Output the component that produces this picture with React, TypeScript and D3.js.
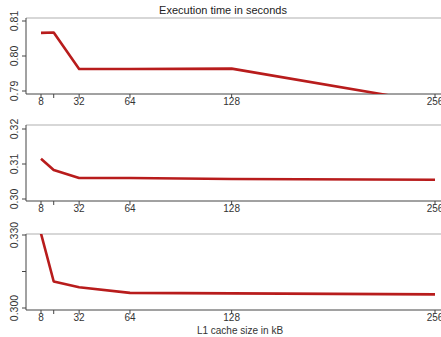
import { useEffect, useRef } from 'react';
import * as d3 from 'd3';

// L1 cache sizes (kB)
const cacheSizes = [8, 16, 32, 64, 128, 256];
const xTicks = [8, 16, 32, 64, 128, 256];
const xTickLabels = ['8', '', '32', '64', '128', '256'];

// execution time in seconds, three runs
const timesA = [0.8066, 0.8067, 0.7963, 0.7963, 0.7964, 0.7865];
const timesB = [0.3115, 0.3083, 0.306, 0.306, 0.3057, 0.3055];
const timesC = [0.3306, 0.3109, 0.3085, 0.3062, 0.306, 0.3056];

const ticksA = [0.79, 0.8, 0.81];
const ticksB = [0.3, 0.31, 0.32];
const ticksC = [0.3, 0.315, 0.33];
const tickLabelsA = ['0.79', '0.80', '0.81'];
const tickLabelsB = ['0.30', '0.31', '0.32'];
const tickLabelsC = ['0.300', '', '0.330'];

const W = 441;
const H = 337;

export default function App() {
  const svgRef = useRef<SVGSVGElement | null>(null);

  useEffect(() => {
    if (!svgRef.current) return;
    const svg = d3.select(svgRef.current);
    svg.selectAll('*').remove();

    const left = 26;
    const x = d3.scaleLinear().domain([8, 256]).range([41, 435]);

    const panels = [
      { vals: timesA, ticks: ticksA, labels: tickLabelsA, top: 18, bottom: 94, yLo: 91, yHi: 21 },
      { vals: timesB, ticks: ticksB, labels: tickLabelsB, top: 125, bottom: 201, yLo: 199, yHi: 129 },
      { vals: timesC, ticks: ticksC, labels: tickLabelsC, top: 234, bottom: 310, yLo: 308, yHi: 235 },
    ];

    const font = '"Liberation Sans", Arial, sans-serif';

    panels.forEach((p, i) => {
      const lo = p.ticks[0];
      const hi = p.ticks[p.ticks.length - 1];
      const y = d3.scaleLinear().domain([lo, hi]).range([p.yLo, p.yHi]);
      const g = svg.append('g');

      const clipId = 'clip' + i;
      svg.append('clipPath').attr('id', clipId)
        .append('rect')
        .attr('x', left).attr('y', p.top)
        .attr('width', W - left).attr('height', p.bottom - p.top);

      // top separator
      g.append('line')
        .attr('x1', left).attr('x2', W)
        .attr('y1', p.top).attr('y2', p.top)
        .attr('stroke', '#b0b0b0').attr('stroke-width', 1.2);

      // axes lines
      g.append('line')
        .attr('x1', left).attr('x2', left)
        .attr('y1', p.top).attr('y2', p.bottom)
        .attr('stroke', '#444');
      g.append('line')
        .attr('x1', left).attr('x2', W)
        .attr('y1', p.bottom).attr('y2', p.bottom)
        .attr('stroke', '#444');

      // y ticks
      p.ticks.forEach((t, k) => {
        g.append('line')
          .attr('x1', left - 4).attr('x2', left)
          .attr('y1', y(t)).attr('y2', y(t))
          .attr('stroke', '#444');
        if (p.labels[k]) {
          g.append('text')
            .attr('transform', `translate(14,${y(t)}) rotate(-90)`)
            .attr('text-anchor', 'middle')
            .attr('dominant-baseline', 'central')
            .attr('font-family', font)
            .attr('font-size', 10.5)
            .attr('fill', '#333')
            .text(p.labels[k]);
        }
      });

      // x ticks
      xTicks.forEach((t, k) => {
        g.append('line')
          .attr('x1', x(t)).attr('x2', x(t))
          .attr('y1', p.bottom).attr('y2', p.bottom + 4)
          .attr('stroke', '#444');
        if (xTickLabels[k]) {
          g.append('text')
            .attr('x', x(t)).attr('y', p.bottom + 7.5)
            .attr('text-anchor', 'middle')
            .attr('dominant-baseline', 'central')
            .attr('font-family', font)
            .attr('font-size', 10)
            .attr('fill', '#333')
            .text(xTickLabels[k]);
        }
      });

      const line = d3.line<number>()
        .x((_, k) => x(cacheSizes[k]))
        .y(d => y(d));

      g.append('path')
        .datum(p.vals)
        .attr('clip-path', `url(#${clipId})`)
        .attr('d', line)
        .attr('fill', 'none')
        .attr('stroke', '#b81c1c')
        .attr('stroke-width', 2.6)
        .attr('stroke-linejoin', 'round');
    });

    svg.append('text')
      .attr('x', 223).attr('y', 14)
      .attr('text-anchor', 'middle')
      .attr('font-family', font)
      .attr('font-size', 11)
      .attr('fill', '#222')
      .text('Execution time in seconds');

    svg.append('text')
      .attr('x', 240).attr('y', 330.5)
      .attr('text-anchor', 'middle')
      .attr('dominant-baseline', 'central')
      .attr('font-family', font)
      .attr('font-size', 10)
      .attr('fill', '#333')
      .text('L1 cache size in kB');
  }, []);

  return (
    <svg
      ref={svgRef}
      width={W}
      height={H}
      style={{ position: 'fixed', left: 0, top: 0, background: '#fff' }}
    />
  );
}
